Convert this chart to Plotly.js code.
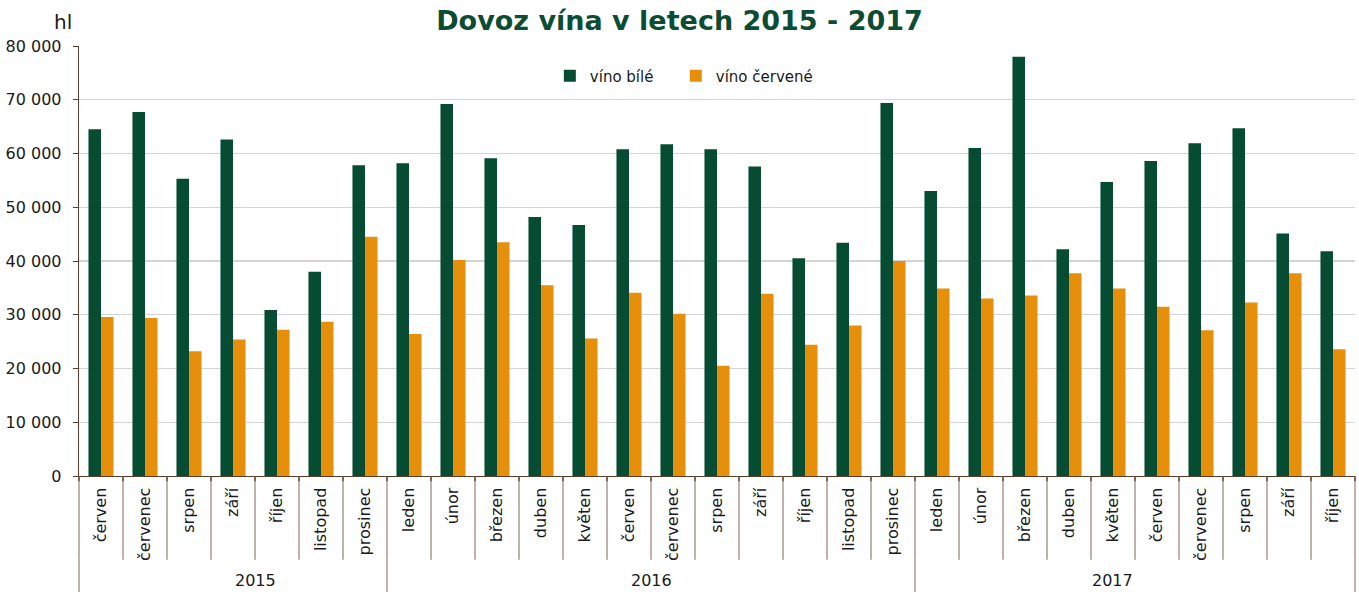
<!DOCTYPE html>
<html>
<head>
<meta charset="utf-8">
<script src="https://cdn.plot.ly/plotly-3.0.1.min.js"></script>
<style>html,body{margin:0;padding:0;background:#fff;}#chart{width:1359px;height:592px;}</style>
</head>
<body>
<div id="chart"></div>
<script>
var years = ["2015", "2016", "2017"];
var monthsPerYear = [
  ["červen","červenec","srpen","září","říjen","listopad","prosinec"],
  ["leden","únor","březen","duben","květen","červen","červenec","srpen","září","říjen","listopad","prosinec"],
  ["leden","únor","březen","duben","květen","červen","červenec","srpen","září","říjen"]
];
var whiteWine = [64500,67700,55300,62600,30900,38000,57800,
  58200,69200,59100,48200,46700,60800,61700,60800,57600,40500,43400,69400,
  53000,61000,78000,42200,54700,58600,61900,64700,45100,41800];
var redWine = [29600,29400,23200,25400,27200,28700,44500,
  26400,40200,43500,35500,25600,34100,30200,20500,33900,24400,28000,40000,
  34900,33000,33600,37700,34900,31500,27100,32300,37700,23600];
var seriesNames = ["víno bílé", "víno červené"];
var colors = ["#064c33", "#e68f0a"];

var months = [].concat.apply([], monthsPerYear);
var n = months.length;
var idx = months.map(function(_, i){ return i; });

var traces = [
  {type:"bar", name:seriesNames[0], x:idx, y:whiteWine, marker:{color:colors[0]}, legend:"legend"},
  {type:"bar", name:seriesNames[1], x:idx, y:redWine, marker:{color:colors[1]}, legend:"legend2"}
];

var font = "DejaVu Sans, Verdana, sans-serif";
var shapes = [];
var annotations = [];
var lineCol = "#9c8b80";
var axisCol = "#5b3b2b";
for (var i = 0; i <= n; i++) {
  var px = i / n;
  shapes.push({type:"line", xref:"paper", yref:"paper", x0:px, x1:px, y0:0, y1:-0.195,
    line:{color:lineCol, width:1.3}});
  shapes.push({type:"line", xref:"paper", yref:"paper", x0:px, x1:px, y0:0, y1:-0.012,
    line:{color:axisCol, width:1.3}});
}
var start = 0;
for (var k = 0; k < years.length; k++) {
  var cnt = monthsPerYear[k].length;
  var x0 = start / n, x1 = (start + cnt) / n;
  shapes.push({type:"line", xref:"paper", yref:"paper", x0:x0, x1:x0, y0:-0.195, y1:-0.27,
    line:{color:lineCol, width:1.3}});
  if (k === years.length - 1) {
    shapes.push({type:"line", xref:"paper", yref:"paper", x0:x1, x1:x1, y0:-0.195, y1:-0.27,
      line:{color:lineCol, width:1.3}});
  }
  annotations.push({xref:"paper", yref:"paper", x:(x0 + x1) / 2, y:-0.244, text:years[k],
    showarrow:false, font:{family:font, size:16, color:"#1a1a1a"}, yanchor:"middle"});
  start += cnt;
}
annotations.push({xref:"paper", yref:"paper", x:-0.0125, y:1.056, text:"hl", showarrow:false,
  font:{family:font, size:20, color:"#1a1a1a"}, xanchor:"center", yanchor:"middle"});

var legendBase = {orientation:"h", y:0.93, xanchor:"left", yanchor:"middle",
  font:{family:font, size:15, color:"#1a1a1a"}, bgcolor:"rgba(0,0,0,0)", itemwidth:30};
var leg1 = Object.assign({}, legendBase, {x:0.369});
var leg2 = Object.assign({}, legendBase, {x:0.4677});

var layout = {
  width:1359, height:592,
  margin:{l:79, r:4, t:46, b:116},
  paper_bgcolor:"#fff", plot_bgcolor:"#fff",
  separators:", ",
  title:{text:"<b>Dovoz vína v letech 2015 - 2017</b>", x:0.5, xanchor:"center", y:0.965, yanchor:"middle",
    font:{family:font, size:27, color:"#0b4d32"}},
  barmode:"group", bargap:0.43, bargroupgap:0,
  showlegend:true,
  legend:leg1, legend2:leg2,
  xaxis:{type:"linear", range:[-0.5, n - 0.5], tickmode:"array", tickvals:idx, ticktext:months,
    tickangle:-90, ticks:"", ticklabelstandoff:4, showgrid:false, zeroline:false, showline:true, linecolor:axisCol, linewidth:1.3,
    tickfont:{family:font, size:16, color:"#1a1a1a"}, fixedrange:true},
  yaxis:{range:[0, 80000], dtick:10000, tickformat:",d", showgrid:true, gridcolor:"#d4d4d4", gridwidth:1.3,
    zeroline:false, showline:true, linecolor:axisCol, linewidth:1.3, ticks:"outside", ticklen:5, tickcolor:axisCol,
    ticklabelstandoff:8, tickfont:{family:font, size:16, color:"#1a1a1a"}, fixedrange:true},
  shapes:shapes, annotations:annotations
};
Plotly.newPlot("chart", traces, layout, {displayModeBar:false, staticPlot:true});
</script>
</body>
</html>
